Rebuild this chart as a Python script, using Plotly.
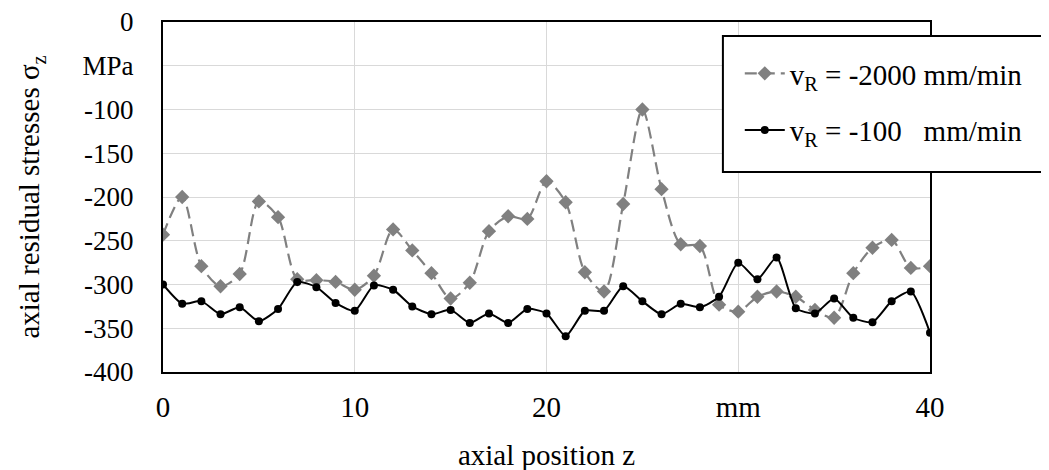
import plotly.graph_objects as go

z = list(range(0, 41))
fast = [-243, -200, -279, -302, -288, -205, -223, -294, -295, -297, -306,
        -290, -237, -261, -287, -316, -298, -239, -222, -225, -182,
        -206, -286, -308, -208, -100, -191, -254, -256, -323, -331,
        -314, -308, -314, -329, -338, -287, -258, -249, -281, -279]
slow = [-300, -322, -319, -334, -326, -342, -328, -297, -303, -321, -330,
        -301, -306, -325, -334, -329, -344, -333, -344, -328, -333,
        -359, -330, -330, -302, -319, -334, -322, -326, -314, -275,
        -294, -269, -327, -333, -316, -338, -343, -319, -308, -355]

x_tickvals = [0, 10, 20, 30, 40]
x_ticktext = ["0", "10", "20", "mm", "40"]
y_tickvals = [0, -50, -100, -150, -200, -250, -300, -350, -400]
y_ticktext = ["0", "MPa", "-100", "-150", "-200", "-250", "-300", "-350", "-400"]

font_family = "Liberation Serif, Times New Roman, serif"
fs = 29

fig = go.Figure()
fig.add_trace(go.Scatter(
    x=z, y=fast, mode="lines+markers",
    name="v<sub>R</sub> = -2000 mm/min",
    line=dict(color="#808080", width=2.2, dash="12px,6px", shape="spline", smoothing=0.8),
    marker=dict(symbol="diamond", size=11, color="#808080"),
    legendgroup="a",
))
fig.add_trace(go.Scatter(
    x=z, y=slow, mode="lines+markers",
    name="v<sub>R</sub> = -100&nbsp;&nbsp;&nbsp;mm/min",
    line=dict(color="#000000", width=2, shape="spline", smoothing=0.6),
    marker=dict(symbol="circle", size=8, color="#000000"),
    legendgroup="b",
))

# legend frame (white box with black border)
fig.add_shape(type="rect", xref="paper", yref="paper",
              x0=0.730, x1=1.151, y0=0.5714, y1=0.96,
              fillcolor="white", line=dict(color="black", width=2),
              layer="above")

fig.update_layout(
    width=1049, height=470,
    margin=dict(l=155, r=127, t=14, b=106),
    paper_bgcolor="white", plot_bgcolor="white",
    font=dict(family=font_family, size=fs, color="black"),
    showlegend=True,
    legend=dict(
        x=0.752, y=0.9257, xanchor="left", yanchor="top",
        bgcolor="rgba(0,0,0,0)", borderwidth=0,
        font=dict(family=font_family, size=fs, color="black"),
        traceorder="grouped", tracegroupgap=16,
        itemwidth=40,
    ),
    xaxis=dict(
        range=[0, 40], tickvals=x_tickvals, ticktext=x_ticktext,
        showgrid=True, gridcolor="#d9d9d9", gridwidth=1,
        showline=True, linecolor="black", linewidth=2, mirror=True,
        ticks="", zeroline=False, ticklabelstandoff=8, automargin=False,
        ticklabeloverflow="allow",
        title=dict(text="axial position z", standoff=23,
                   font=dict(family=font_family, size=fs)),
    ),
    yaxis=dict(
        range=[-400, 0], tickvals=y_tickvals, ticktext=y_ticktext,
        tickfont=dict(family=font_family, size=27),
        showgrid=True, gridcolor="#d9d9d9", gridwidth=1,
        showline=True, linecolor="black", linewidth=2, mirror=True,
        ticks="", zeroline=False, ticklabelstandoff=22, automargin=False,
        ticklabeloverflow="allow",
        title=dict(text="axial residual stresses σ<sub>z</sub>", standoff=34,
                   font=dict(family=font_family, size=fs)),
    ),
)

fig.write_html("out.html")
